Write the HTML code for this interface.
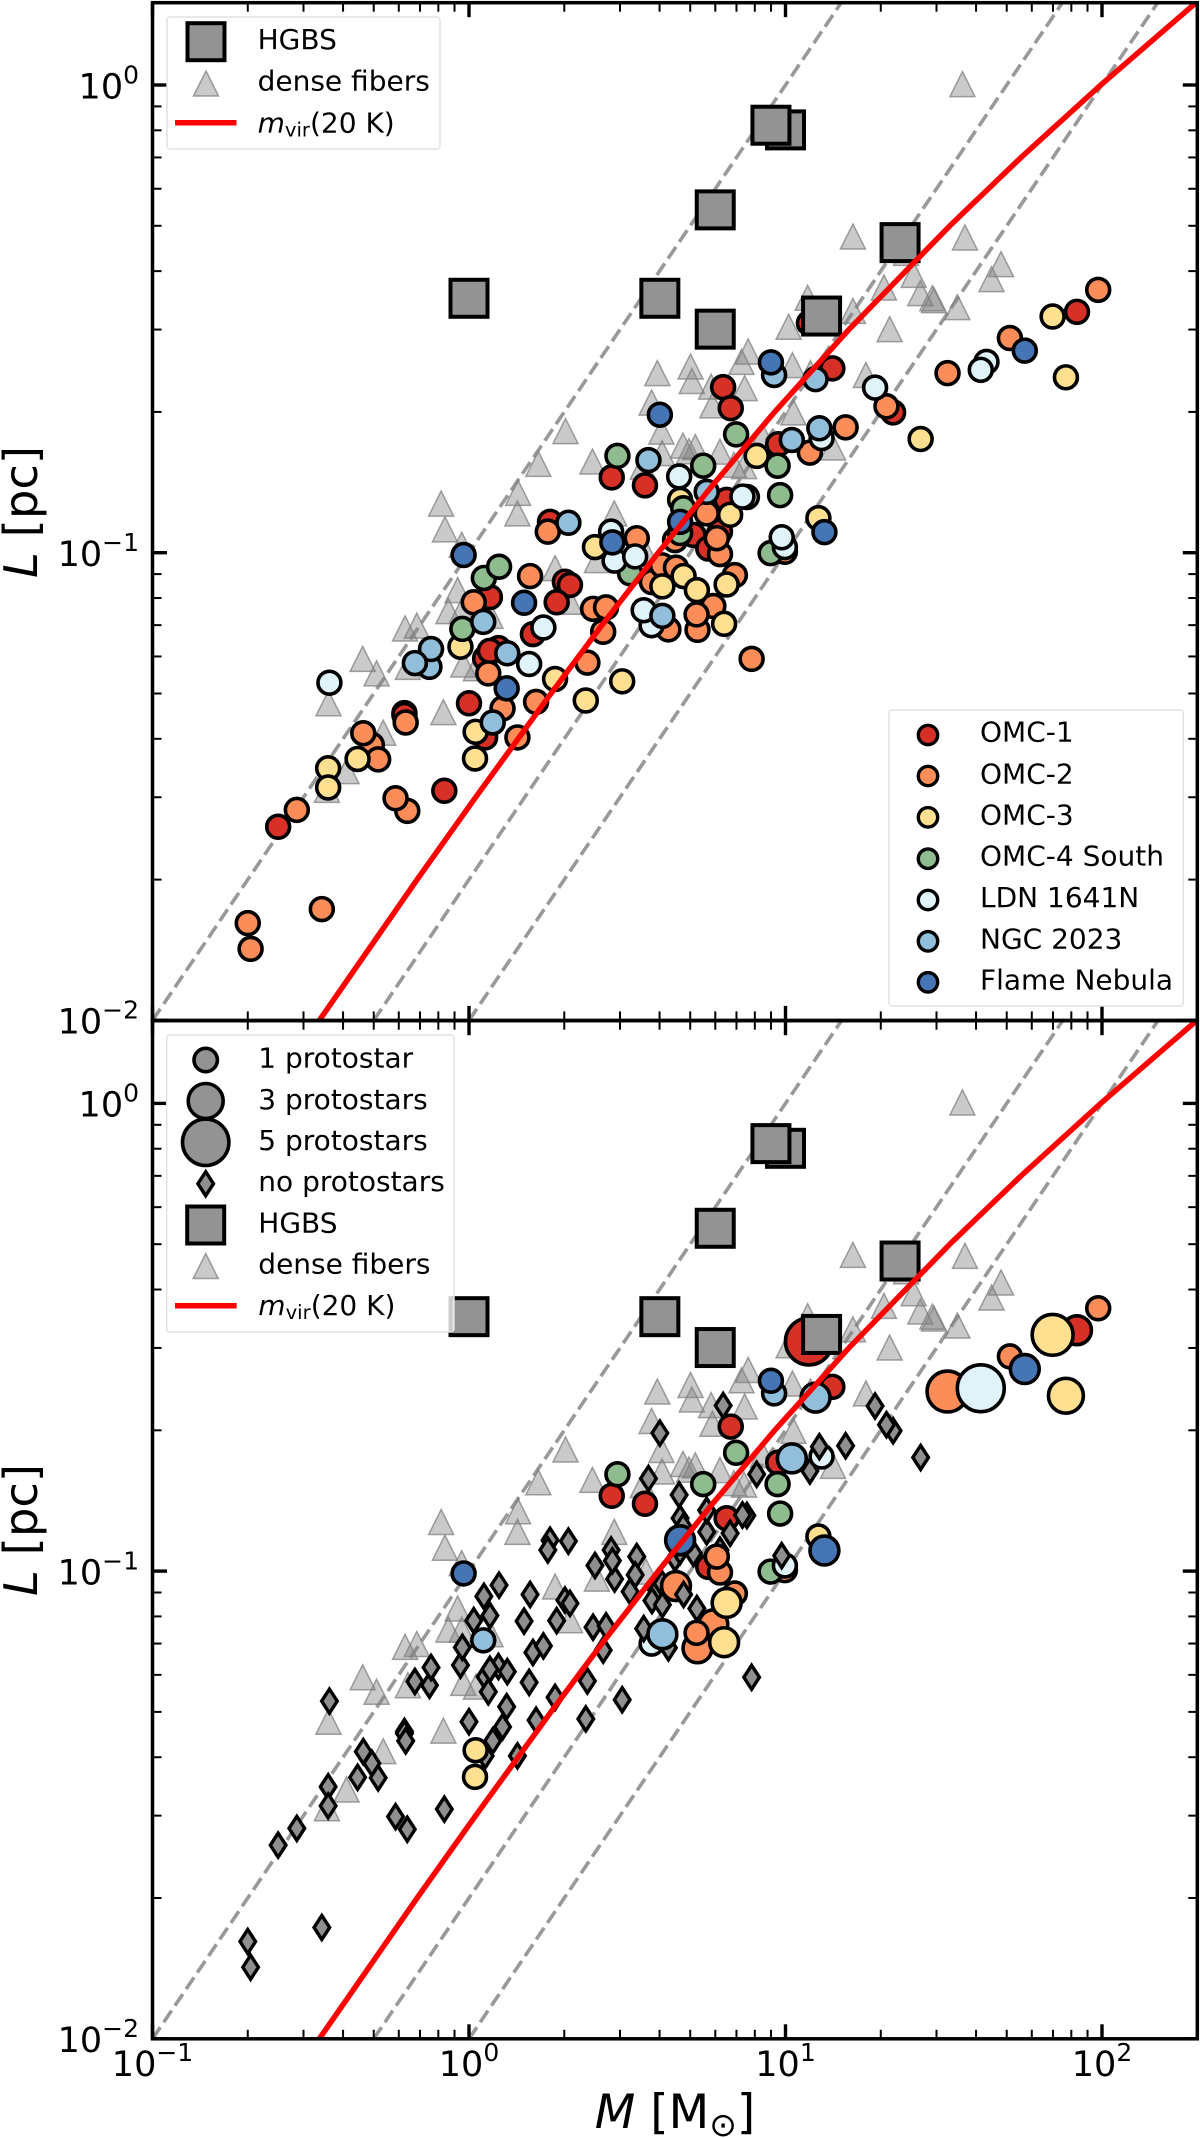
<!DOCTYPE html>
<html lang="en">
<head>
<meta charset="utf-8">
<title>Mass-size relation of fibers</title>
<style>
  html, body { margin: 0; padding: 0; background: #fff; }
  svg { display: block; font-family: "DejaVu Sans", "Liberation Sans", sans-serif; }
</style>
</head>
<body>
<svg id="chart" xmlns="http://www.w3.org/2000/svg" width="1200" height="2138" viewBox="0 0 1200 2138">
  <rect x="0" y="0" width="1200" height="2138" fill="#fff"/>
  <defs>
    <clipPath id="clip-top"><rect x="152.5" y="2.7" width="1044.8" height="1017.7"/></clipPath>
    <clipPath id="clip-bottom"><rect x="152.5" y="1020.7" width="1044.8" height="1018.1"/></clipPath>
  </defs>
  <g id="panel-top"></g>
  <g id="panel-bottom"></g>

  <g>
    <text transform="translate(37 512) rotate(-90)" text-anchor="middle" font-size="46.5"><tspan font-style="italic">L</tspan> [pc]</text>
  </g>
  <g>
    <text transform="translate(37 1530) rotate(-90)" text-anchor="middle" font-size="46.5"><tspan font-style="italic">L</tspan> [pc]</text>
  </g>
  <text x="675" y="2128" text-anchor="middle" font-size="47"><tspan font-style="italic">M</tspan> [M<tspan font-size="33" dy="8">⊙</tspan><tspan dy="-8">]</tspan></text>

  <g font-size="28">
    <rect x="167" y="17" width="273" height="132" rx="3" fill="#fff" fill-opacity="0.8" stroke="#e2e2e2" stroke-width="1.5"/>
    <rect x="187.5" y="23.2" width="37" height="37" fill="#939393" stroke="#000" stroke-width="4"/>
    <polygon points="206,71 218.5,96 193.5,96" fill="#808080" fill-opacity="0.42" stroke="#808080" stroke-opacity="0.75" stroke-width="1.5"/>
    <line x1="175" y1="122.7" x2="236.5" y2="122.7" stroke="#f00" stroke-width="5.5"/>
    <text x="257.6" y="49">HGBS</text>
    <text x="257.6" y="90.7">dense fibers</text>
    <text x="257.6" y="132.7"><tspan font-style="italic">m</tspan><tspan font-size="19.6" dy="4">vir</tspan><tspan dy="-4">(20 K)</tspan></text>
  </g>

  <g font-size="28">
    <rect x="889" y="710" width="294.3" height="296" rx="3" fill="#fff" fill-opacity="0.8" stroke="#e2e2e2" stroke-width="1.5"/>
    <circle cx="928" cy="735" r="9.7" fill="#d73027" stroke="#000" stroke-width="3.4"/>
    <circle cx="928" cy="776" r="9.7" fill="#fc8d59" stroke="#000" stroke-width="3.4"/>
    <circle cx="928" cy="817.3" r="9.7" fill="#fee090" stroke="#000" stroke-width="3.4"/>
    <circle cx="928" cy="858.7" r="9.7" fill="#8fbc8f" stroke="#000" stroke-width="3.4"/>
    <circle cx="928" cy="900" r="9.7" fill="#e0f3f8" stroke="#000" stroke-width="3.4"/>
    <circle cx="928" cy="941.3" r="9.7" fill="#91bfdb" stroke="#000" stroke-width="3.4"/>
    <circle cx="928" cy="982.3" r="9.7" fill="#4575b4" stroke="#000" stroke-width="3.4"/>
    <text x="980" y="741.7">OMC-1</text>
    <text x="980" y="783.3">OMC-2</text>
    <text x="980" y="824.3">OMC-3</text>
    <text x="980" y="865.7">OMC-4 South</text>
    <text x="980" y="907">LDN 1641N</text>
    <text x="980" y="948.3">NGC 2023</text>
    <text x="980" y="989.3">Flame Nebula</text>
  </g>

  <g font-size="28">
    <rect x="166.7" y="1035" width="287.3" height="297" rx="3" fill="#fff" fill-opacity="0.8" stroke="#e2e2e2" stroke-width="1.5"/>
    <circle cx="205.7" cy="1060" r="11.7" fill="#939393" stroke="#000" stroke-width="3.6"/>
    <circle cx="205.7" cy="1101" r="17.5" fill="#939393" stroke="#000" stroke-width="3.6"/>
    <circle cx="205.7" cy="1142.3" r="23.2" fill="#939393" stroke="#000" stroke-width="3.6"/>
    <polygon points="205.7,1171.7 213.5,1183.7 205.7,1195.7 197.9,1183.7" fill="#8f8f8f" stroke="#000" stroke-width="3.4"/>
    <rect x="187.2" y="1206.5" width="37" height="37" fill="#939393" stroke="#000" stroke-width="4"/>
    <polygon points="205.7,1253.5 218.2,1278.5 193.2,1278.5" fill="#808080" fill-opacity="0.42" stroke="#808080" stroke-opacity="0.75" stroke-width="1.5"/>
    <line x1="175" y1="1305.7" x2="236.7" y2="1305.7" stroke="#f00" stroke-width="5.5"/>
    <text x="258.3" y="1067.7">1 protostar</text>
    <text x="258.3" y="1109">3 protostars</text>
    <text x="258.3" y="1150">5 protostars</text>
    <text x="258.3" y="1191">no protostars</text>
    <text x="258.3" y="1232.3">HGBS</text>
    <text x="258.3" y="1273.3">dense fibers</text>
    <text x="258.3" y="1315"><tspan font-style="italic">m</tspan><tspan font-size="19.6" dy="4">vir</tspan><tspan dy="-4">(20 K)</tspan></text>
  </g>
</svg>

<script>
// All data values are log10(M / Msun) and log10(L / pc).
const xTickExponents = [-1, 0, 1, 2];
const yTickExponents = [-2, -1, 0];
const minorMultipliers = [2, 3, 4, 5, 6, 7, 8, 9];

const dashedMassPerLength = [10, 50, 100];
const dashedLogLRange = [-2, 0.176];

const mvirLogL = [-2, -1.699, -1.523, -1.301, -1.155, -1, -0.854, -0.699, -0.523, -0.301, -0.155, 0, 0.176];
const mvirLogM = [-0.473, -0.164, 0.021, 0.259, 0.420, 0.598, 0.772, 0.966, 1.200, 1.519, 1.744, 1.996, 2.297];

const hgbsLogM = [0.000, 1.000, 0.954, 0.778, 0.603, 0.778, 1.114, 1.362];
const hgbsLogL = [-0.456, -0.096, -0.086, -0.267, -0.456, -0.522, -0.494, -0.337];

const fiberLogM = [1.559,1.213,1.567,1.681,1.651,1.381,1.405,1.311,1.426,1.464,1.469,1.543,1.070,1.213,1.329,1.010,0.882,0.861,0.595,0.700,0.704,0.765,0.871,1.022,1.079,1.254,0.577,0.769,1.025,0.608,0.610,0.676,0.715,0.695,0.793,0.837,0.869,1.150,0.928,0.549,0.305,0.219,0.155,0.153,0.390,-0.088,-0.076,-0.023,-0.036,-0.065,-0.023,0.068,-0.202,-0.165,-0.336,-0.292,-0.444,-0.081,-0.271,-0.387,-0.449,-0.018,-0.193,0.022,0.272,0.319,0.404,0.559,0.459];
const fiberLogL = [0.002,-0.324,-0.326,-0.383,-0.415,-0.359,-0.406,-0.433,-0.445,-0.456,-0.460,-0.475,-0.455,-0.483,-0.522,-0.517,-0.570,-0.592,-0.616,-0.602,-0.633,-0.645,-0.648,-0.599,-0.616,-0.620,-0.679,-0.685,-0.700,-0.741,-0.787,-0.771,-0.774,-0.783,-0.784,-0.812,-0.815,-0.775,-0.752,-0.816,-0.740,-0.810,-0.872,-0.916,-0.805,-0.895,-0.950,-0.983,-1.080,-1.125,-1.125,-1.135,-1.162,-1.156,-1.227,-1.258,-1.322,-1.341,-1.385,-1.467,-1.507,-1.239,-1.244,-1.247,-1.033,-1.105,-1.016,-1.001,-0.916];

const omc1LogM = [-0.603,-0.078,-0.204,-0.204,0.000,0.051,0.066,0.093,0.051,0.066,0.303,0.319,0.277,0.202,0.256,0.451,0.556,0.803,0.827,1.148,0.977,0.814,0.793,0.709,0.756,1.340,1.074,1.921];
const omc1LogL = [-1.586,-1.509,-1.343,-1.347,-1.322,-1.395,-1.095,-1.204,-1.226,-1.210,-1.062,-1.069,-1.106,-1.174,-0.934,-0.839,-0.856,-0.646,-0.691,-0.606,-0.768,-0.887,-0.955,-0.962,-0.991,-0.700,-0.509,-0.485];
const omc1Protostars = [0,0,0,0,0,0,0,0,0,0,0,0,0,0,0,1,1,0,1,1,1,1,0,0,1,0,5,2];

const omc2LogM = [-0.544,-0.699,-0.690,-0.465,-0.195,-0.232,-0.307,-0.334,-0.287,-0.200,0.015,0.193,0.061,0.106,0.212,0.153,0.374,0.392,0.433,0.424,0.893,0.249,0.530,0.651,0.793,0.783,0.751,0.840,0.593,0.578,0.610,0.654,0.772,0.722,0.719,0.630,1.319,1.077,1.190,0.998,1.512,1.709,1.988];
const omc2LogL = [-1.550,-1.792,-1.847,-1.762,-1.552,-1.525,-1.411,-1.386,-1.442,-1.363,-1.106,-1.050,-1.258,-1.333,-1.319,-1.395,-1.235,-1.120,-1.117,-1.169,-1.227,-0.955,-0.969,-0.973,-1.003,-0.969,-0.916,-1.048,-1.041,-1.063,-1.027,-1.032,-1.114,-1.165,-1.132,-1.164,-0.687,-0.786,-0.732,-0.998,-0.616,-0.541,-0.438];
const omc2Protostars = [0,0,0,0,0,0,0,0,0,0,0,0,0,0,0,0,0,0,0,0,0,0,0,0,1,1,0,1,0,0,0,2,2,2,1,0,0,0,0,1,4,1,1];

const omc3LogM = [-0.445,-0.445,-0.352,-0.027,0.021,0.019,0.272,0.369,0.484,0.398,0.611,0.678,0.720,0.814,0.806,0.667,0.825,0.909,1.104,1.427,1.844,1.886];
const omc3LogL = [-1.461,-1.502,-1.441,-1.201,-1.383,-1.440,-1.270,-1.316,-1.275,-0.988,-1.072,-1.050,-1.080,-1.068,-1.152,-0.887,-0.919,-0.793,-0.926,-0.757,-0.495,-0.625];
const omc3Protostars = [0,0,0,0,1,1,0,0,0,0,0,0,0,2,2,0,0,0,1,0,4,3];

const omc4LogM = [0.047,0.095,-0.021,0.509,0.469,0.740,0.844,0.975,0.983,0.953,0.677,0.667];
const omc4LogL = [-1.054,-1.030,-1.163,-1.044,-0.793,-0.814,-0.747,-0.814,-0.877,-1.001,-0.905,-0.958];
const omc4Protostars = [0,0,0,0,1,1,1,1,1,1,0,0];

const ldnLogM = [-0.441,0.235,0.190,0.449,0.460,0.525,0.577,0.552,0.664,0.878,0.864,1.114,0.998,0.988,1.283,1.635,1.617];
const ldnLogL = [-1.278,-1.160,-1.238,-0.955,-1.017,-1.008,-1.155,-1.123,-0.837,-0.881,-0.880,-0.755,-0.988,-0.967,-0.647,-0.592,-0.609];
const ldnProtostars = [0,0,0,0,0,0,1,0,0,0,0,1,1,0,0,1,5];

const ngcLogM = [-0.125,-0.120,-0.171,0.045,0.121,0.075,0.314,0.567,0.751,0.611,0.964,1.095,1.020,1.107];
const ngcLogL = [-1.244,-1.206,-1.236,-1.148,-1.215,-1.363,-0.936,-0.802,-0.870,-1.135,-0.620,-0.629,-0.759,-0.734];
const ngcProtostars = [0,0,0,1,0,0,0,0,0,2,1,2,2,0];

const flameLogM = [-0.017,0.174,0.119,0.453,0.603,0.954,0.667,1.123,1.756];
const flameLogL = [-1.005,-1.107,-1.290,-0.978,-0.705,-0.593,-0.934,-0.956,-0.568];
const flameProtostars = [1,0,0,0,0,1,2,2,2];

const SVG_NS = 'http://www.w3.org/2000/svg';
const X_LEFT = 152.5, X_RIGHT = 1197.3, X_DECADE = 316.5, Y_DECADE = 467.7;

const regionLogM = [omc1LogM, omc2LogM, omc3LogM, omc4LogM, ldnLogM, ngcLogM, flameLogM];
const regionLogL = [omc1LogL, omc2LogL, omc3LogL, omc4LogL, ldnLogL, ngcLogL, flameLogL];
const regionProtostars = [omc1Protostars, omc2Protostars, omc3Protostars, omc4Protostars, ldnProtostars, ngcProtostars, flameProtostars];
const regionFill = ['#d73027', '#fc8d59', '#fee090', '#8fbc8f', '#e0f3f8', '#91bfdb', '#4575b4'];

function xAxis(logM) { return X_LEFT + X_DECADE * (logM + 1); }
function yAxis(logL, bottom) { return bottom - Y_DECADE * (logL + 2); }
function make(tag, parent) {
  const el = document.createElementNS(SVG_NS, tag);
  parent.appendChild(el);
  return el;
}
function polyPath(ms, ls, bottom) {
  return ms.map((m, i) => (i ? 'L' : 'M') + xAxis(m).toFixed(1) + ' ' + yAxis(ls[i], bottom).toFixed(1)).join(' ');
}

function drawGuides(g, bottom) {
  dashedMassPerLength.forEach(function (ratio) {
    const offset = Math.log10(ratio);
    const ms = dashedLogLRange.map(l => l + offset);
    const el = make('path', g);
    
    
    el.setAttribute('d', polyPath(ms, dashedLogLRange, bottom));
    el.setAttribute('fill', 'none');
    el.setAttribute('stroke', '#999');
    el.setAttribute('stroke-width', '3.6');
    el.setAttribute('stroke-dasharray', '14 6');
  });
}

function drawFibers(g, bottom) {
  fiberLogM.forEach(function (m, i) {
    const cx = xAxis(m), cy = yAxis(fiberLogL[i], bottom);
    const el = make('polygon', g);
    
    
    el.setAttribute('points', cx + ',' + (cy - 12.5) + ' ' + (cx + 12.5) + ',' + (cy + 12.5) + ' ' + (cx - 12.5) + ',' + (cy + 12.5));
    el.setAttribute('fill', '#808080');
    el.setAttribute('fill-opacity', '0.42');
    el.setAttribute('stroke', '#808080');
    el.setAttribute('stroke-opacity', '0.75');
    el.setAttribute('stroke-width', '1.5');
  });
}

function drawSources(g, bottom, useCounts) {
  regionLogM.forEach(function (ms, r) {
    ms.forEach(function (m, i) {
      const cx = xAxis(m), cy = yAxis(regionLogL[r][i], bottom);
      const n = regionProtostars[r][i];
      if (useCounts && n === 0) {
        const el = make('polygon', g);
        
        
        el.setAttribute('points', cx + ',' + (cy - 12) + ' ' + (cx + 7.8) + ',' + cy + ' ' + cx + ',' + (cy + 12) + ' ' + (cx - 7.8) + ',' + cy);
        el.setAttribute('fill', '#8f8f8f');
        el.setAttribute('stroke', '#000');
        el.setAttribute('stroke-width', '3.4');
      } else {
        const el = make('circle', g);
        
        
        const outer = useCounts ? 20.5 + 6 * n : 26.5;
        el.setAttribute('cx', cx);
        el.setAttribute('cy', cy);
        el.setAttribute('r', (outer - 3.6) / 2);
        el.setAttribute('fill', regionFill[r]);
        el.setAttribute('stroke', '#000');
        el.setAttribute('stroke-width', '3.6');
      }
    });
  });
}

function drawSquares(g, bottom) {
  hgbsLogM.forEach(function (m, i) {
    const el = make('rect', g);
    
    
    el.setAttribute('x', xAxis(m) - 18.5);
    el.setAttribute('y', yAxis(hgbsLogL[i], bottom) - 18.5);
    el.setAttribute('width', '37');
    el.setAttribute('height', '37');
    el.setAttribute('fill', '#939393');
    el.setAttribute('stroke', '#000');
    el.setAttribute('stroke-width', '4');
  });
}

function drawVirial(g, bottom) {
  const el = make('path', g);
  
  
  el.setAttribute('d', polyPath(mvirLogM, mvirLogL, bottom));
  el.setAttribute('fill', 'none');
  el.setAttribute('stroke', '#f00');
  el.setAttribute('stroke-width', '5.5');
}

function tickLine(g, x1, y1, x2, y2, major) {
  const el = make('line', g);
  
  
  el.setAttribute('x1', x1);
  el.setAttribute('y1', y1);
  el.setAttribute('x2', x2);
  el.setAttribute('y2', y2);
  el.setAttribute('stroke', '#000');
  el.setAttribute('stroke-width', major ? '3.4' : '2');
}

function powerLabel(g, x, y, anchor, exponent) {
  const el = make('text', g);
  
  
  el.setAttribute('x', x);
  el.setAttribute('y', y);
  el.setAttribute('text-anchor', anchor);
  el.setAttribute('font-size', '35');
  const base = make('tspan', el);
  base.textContent = '10';
  const sup = make('tspan', el);
  sup.setAttribute('font-size', '25');
  sup.setAttribute('dy', '-15');
  sup.textContent = String(exponent).replace('-', '\u2212');
}

function drawAxes(g, top, bottom, showX) {
  function xTick(v, major) {
    const x = xAxis(v), len = major ? 14.5 : 9;
    if (x > X_RIGHT - 1) return;
    tickLine(g, x, bottom, x, bottom - len, major);
    tickLine(g, x, top, x, top + len, major);
  }
  function yTick(v, major) {
    const y = yAxis(v, bottom), len = major ? 14.5 : 9;
    if (y < top + 1) return;
    tickLine(g, X_LEFT, y, X_LEFT + len, y, major);
    tickLine(g, X_RIGHT, y, X_RIGHT - len, y, major);
  }
  xTickExponents.forEach(function (e) {
    xTick(e, true);
    minorMultipliers.forEach(k => xTick(e + Math.log10(k), false));
  });
  yTickExponents.forEach(function (e) {
    yTick(e, true);
    minorMultipliers.forEach(k => yTick(e + Math.log10(k), false));
  });
  yTickExponents.forEach(function (e) {
    powerLabel(g, 139, yAxis(e, bottom) + 13.3, 'end', e);
  });
  if (showX) {
    xTickExponents.forEach(function (e) {
      powerLabel(g, xAxis(e), 2076, 'middle', e);
    });
  }
  const frame = make('rect', g);
  
  
  frame.setAttribute('x', X_LEFT);
  frame.setAttribute('y', top);
  frame.setAttribute('width', X_RIGHT - X_LEFT);
  frame.setAttribute('height', bottom - top);
  frame.setAttribute('fill', 'none');
  frame.setAttribute('stroke', '#000');
  frame.setAttribute('stroke-width', '3.5');
}

function drawPanel(id, clipId, top, bottom, useCounts) {
  const panel = document.getElementById(id);
  const plot = make('g', panel);
  
  
  plot.setAttribute('clip-path', 'url(#' + clipId + ')');
  drawGuides(plot, bottom);
  drawFibers(plot, bottom);
  drawSources(plot, bottom, useCounts);
  drawSquares(plot, bottom);
  drawVirial(plot, bottom);
  const axes = make('g', panel);
  
  
  drawAxes(axes, top, bottom, useCounts);
}

drawPanel('panel-top', 'clip-top', 2.7, 1020.4, false);
drawPanel('panel-bottom', 'clip-bottom', 1020.7, 2038.8, true);
</script>
</body>
</html>
